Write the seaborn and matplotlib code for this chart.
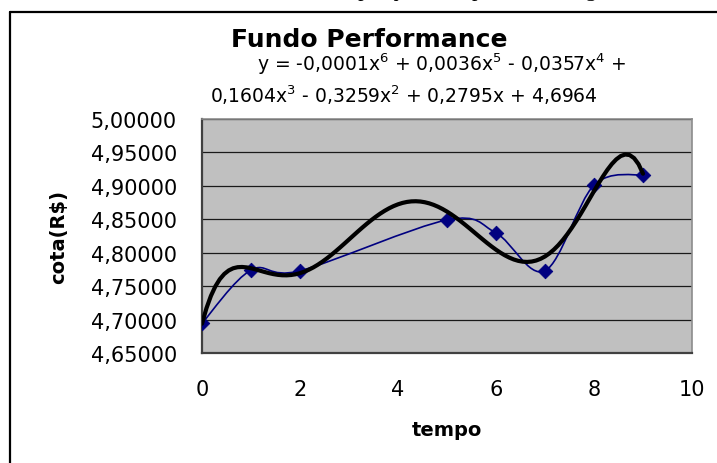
import numpy as np
import pandas as pd
import seaborn as sns
import matplotlib.pyplot as plt
from matplotlib.path import Path
from matplotlib.patches import PathPatch
from matplotlib.lines import Line2D
from matplotlib.ticker import FuncFormatter, MultipleLocator

# data
tempo = [0, 1, 2, 5, 6, 7, 8, 9]
cota = [4.6944, 4.7741, 4.7730, 4.8490, 4.8295, 4.7730, 4.9010, 4.9167]

titulo = "Fundo Performance"
equacao_1 = "y = -0,0001x$^6$ + 0,0036x$^5$ - 0,0357x$^4$ +"
equacao_2 = "0,1604x$^3$ - 0,3259x$^2$ + 0,2795x + 4,6964"

df = pd.DataFrame({"tempo": tempo, "cota": cota})

sns.set_style("white")
plt.rcParams["font.family"] = ["DejaVu Sans"]
plt.rcParams["text.color"] = "black"
plt.rcParams["axes.labelcolor"] = "black"

W, H = 717, 464
fig = plt.figure(figsize=(W / 100, H / 100), dpi=100)
ax = fig.add_axes([202 / W, 1 - 354 / H, 490 / W, 234 / H])
ax.set_facecolor("#c0c0c0")

# smoothed data line (Excel-style bezier through the points)
pts = df[["tempo", "cota"]].to_numpy()
verts = [pts[0]]
codes = [Path.MOVETO]
for i in range(len(pts) - 1):
    p0 = pts[i - 1] if i > 0 else pts[i]
    p1, p2 = pts[i], pts[i + 1]
    p3 = pts[i + 2] if i + 2 < len(pts) else pts[i + 1]
    verts += [p1 + (p2 - p0) / 6, p2 - (p3 - p1) / 6, p2]
    codes += [Path.CURVE4] * 3
ax.add_patch(PathPatch(Path(verts, codes), facecolor="none", edgecolor="#000080", lw=1.2, zorder=3))
sns.scatterplot(data=df, x="tempo", y="cota", marker="D", s=55, color="#000080",
                edgecolor="#000080", ax=ax, zorder=4)

# polynomial trend line (order 6)
sns.regplot(data=df, x="tempo", y="cota", order=6, ci=None, scatter=False,
            line_kws=dict(color="black", lw=3), ax=ax)
for ln in ax.lines:
    ln.set_zorder(5)

ax.set_xlim(0, 10)
ax.set_ylim(4.65, 5.0)
ax.xaxis.set_major_locator(MultipleLocator(2))
ax.yaxis.set_major_locator(MultipleLocator(0.05))
ax.yaxis.set_major_formatter(FuncFormatter(lambda v, p: f"{v:.5f}".replace(".", ",")))
ax.grid(axis="y", color="#1a1a1a", lw=0.9)
ax.grid(axis="x", visible=False)
ax.set_axisbelow(True)

for s in ["left", "bottom"]:
    ax.spines[s].set_color("#404040")
    ax.spines[s].set_linewidth(1.6)
for s in ["top", "right"]:
    ax.spines[s].set_color("#8c8c8c")
    ax.spines[s].set_linewidth(1.2)

ax.tick_params(axis="both", direction="out", length=7, width=1, color="#404040",
               labelsize=15, labelcolor="black")
ax.tick_params(axis="y", pad=11)
ax.tick_params(axis="x", pad=12)
ax.set_xlabel("tempo", fontsize=14, fontweight="bold", labelpad=15)
ax.set_ylabel("cota(R$)", fontsize=14, fontweight="bold", labelpad=16)

fig.text(369 / W, 1 - 47 / H, titulo, ha="center", va="baseline", fontsize=18, fontweight="bold")
fig.text(442 / W, 1 - 71 / H, equacao_1, ha="center", va="baseline", fontsize=13.5)
fig.text(404 / W, 1 - 103 / H, equacao_2, ha="center", va="baseline", fontsize=13.5)

# chart border (only left and top visible in the crop)
fig.add_artist(Line2D([10 / W, 10 / W], [0, 1 - 13 / H], transform=fig.transFigure, color="black", lw=1.6))
fig.add_artist(Line2D([10 / W, 1], [1 - 13 / H, 1 - 13 / H], transform=fig.transFigure, color="black", lw=1.6))

# clipped line of document text above the chart
fig.text(420 / W, 1 + 4 / H, "trabalho, o fundo pesquisado apresenta a seguinte", ha="center",
         va="baseline", fontsize=16, family=["Liberation Serif"])

fig.savefig("out.png", dpi=100)
